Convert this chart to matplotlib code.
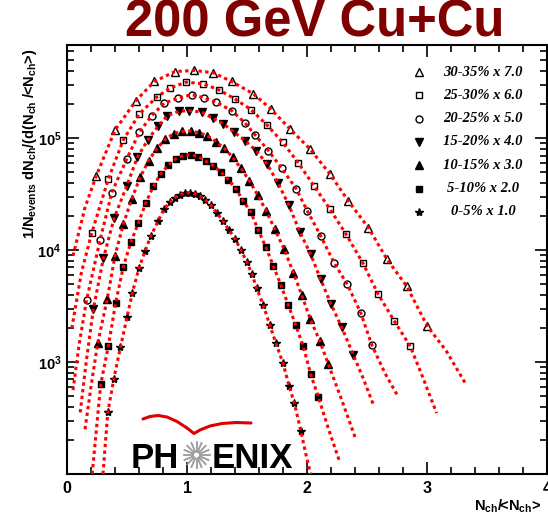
import matplotlib
matplotlib.use('Agg')
import matplotlib.pyplot as plt
import numpy as np
from matplotlib.ticker import MultipleLocator, LogLocator, NullFormatter

plt.rcParams['font.family'] = ['Liberation Sans', 'DejaVu Sans']
plt.rcParams['font.weight'] = 'bold'
plt.rcParams['mathtext.fontset'] = 'custom'
plt.rcParams['mathtext.rm'] = 'Liberation Sans:bold'
plt.rcParams['mathtext.bf'] = 'Liberation Sans:bold'
plt.rcParams['mathtext.it'] = 'Liberation Sans:bold'

# ---- data (Nch/<Nch>, scaled 1/Nev dN/dx) ----
legend_labels = ['30-35% x 7.0', '25-30% x 6.0', '20-25% x 5.0', '15-20% x 4.0',
                 '10-15% x 3.0', '5-10% x 2.0', '0-5% x 1.0']
x_ticks = [0, 1, 2, 3, 4]
y_ticks = [1e3, 1e4, 1e5]
y_tick_labels = [r'$10^{3}$', r'$10^{4}$', r'$10^{5}$']

x_30_35 = [0.242, 0.400, 0.575, 0.728, 0.900, 1.061, 1.219, 1.372, 1.553, 1.697,
           1.858, 2.025, 2.192, 2.344, 2.511, 2.667, 2.831, 3.003]
y_30_35 = [4.56e4, 1.18e5, 2.17e5, 3.21e5, 3.94e5, 4.03e5, 3.84e5, 3.21e5, 2.49e5, 1.83e5,
           1.21e5, 8.0e4, 4.78e4, 2.75e4, 1.59e4, 8280, 4760, 2090]

x_25_30 = [0.206, 0.344, 0.469, 0.603, 0.748, 0.858, 0.992, 1.136, 1.269, 1.400, 1.533,
           1.664, 1.798, 1.928, 2.058, 2.192, 2.325, 2.464, 2.594, 2.728, 2.861]
y_25_30 = [1.42e4, 4.31e4, 9.64e4, 1.65e5, 2.33e5, 2.8e5, 3.17e5, 3.06e5, 2.69e5, 2.24e5, 1.8e5,
           1.32e5, 9.18e4, 6.0e4, 3.75e4, 2.32e4, 1.39e4, 7730, 4020, 2320, 1380]

x_20_25 = [0.164, 0.275, 0.373, 0.498, 0.603, 0.706, 0.811, 0.928, 1.039, 1.142, 1.242, 1.373,
           1.480, 1.567, 1.678, 1.790, 1.908, 2.003, 2.114, 2.225, 2.336, 2.448, 2.539]
y_20_25 = [3620, 1.22e4, 3.27e4, 6.52e4, 1.13e5, 1.59e5, 2.06e5, 2.28e5, 2.45e5, 2.29e5, 2.1e5,
           1.76e5, 1.38e5, 1.07e5, 7.76e4, 5.37e4, 3.55e4, 2.24e4, 1.34e4, 7730, 4940, 2750, 1430]

x_15_20 = [0.219, 0.303, 0.394, 0.498, 0.586, 0.673, 0.761, 0.836, 0.933, 1.019, 1.123, 1.214,
           1.303, 1.394, 1.483, 1.575, 1.667, 1.758, 1.850, 1.942, 2.031, 2.114, 2.198, 2.289, 2.386]
y_15_20 = [2950, 8450, 1.95e4, 3.75e4, 6.75e4, 9.64e4, 1.29e5, 1.59e5, 1.74e5, 1.76e5, 1.71e5,
           1.51e5, 1.34e5, 1.13e5, 9.51e4, 7.76e4, 5.89e4, 3.98e4, 2.51e4, 1.44e4, 9160, 5470,
           3330, 2050, 1160]

x_10_15 = [0.256, 0.335, 0.400, 0.469, 0.540, 0.610, 0.680, 0.750, 0.820, 0.890, 0.960, 1.030,
           1.100, 1.170, 1.240, 1.310, 1.380, 1.450, 1.520, 1.590, 1.660, 1.730, 1.810, 1.886,
           1.956, 2.025, 2.108, 2.178]
y_10_15 = [1480, 3630, 8910, 1.7e4, 2.88e4, 4.47e4, 6.31e4, 8.13e4, 9.77e4, 1.1e5, 1.15e5, 1.16e5,
           1.12e5, 1.05e5, 9.33e4, 8.13e4, 6.76e4, 5.37e4, 4.17e4, 3.09e4, 2.24e4, 1.55e4, 1.02e4,
           6310, 3980, 2450, 1530, 955]

x_5_10 = [0.281, 0.344, 0.406, 0.469, 0.531, 0.594, 0.656, 0.719, 0.781, 0.844, 0.906, 0.969,
          1.031, 1.094, 1.156, 1.219, 1.281, 1.344, 1.406, 1.469, 1.531, 1.594, 1.656, 1.719,
          1.781, 1.844, 1.906, 1.969, 2.031, 2.094]
y_5_10 = [631, 1380, 3390, 7080, 1.17e4, 1.74e4, 2.63e4, 3.72e4, 4.79e4, 5.75e4, 6.53e4, 7.0e4,
          7.11e4, 6.84e4, 6.24e4, 5.69e4, 5.01e4, 4.27e4, 3.55e4, 2.75e4, 2.19e4, 1.51e4, 1.07e4,
          7240, 4900, 3240, 2140, 1380, 776, 490]

x_0_5 = [0.34, 0.39, 0.445, 0.50, 0.545, 0.60, 0.65, 0.70, 0.76, 0.81, 0.86, 0.90, 0.94, 0.985,
         1.025, 1.065, 1.11, 1.15, 1.20, 1.25, 1.30, 1.35, 1.40, 1.45, 1.50, 1.54, 1.58, 1.635,
         1.69, 1.74, 1.80, 1.85, 1.895, 1.95]
y_0_5 = [355, 708, 1350, 2510, 4170, 6920, 9770, 1.35e4, 1.82e4, 2.34e4, 2.69e4, 2.95e4, 3.13e4,
         3.24e4, 3.27e4, 3.2e4, 3.02e4, 2.82e4, 2.51e4, 2.14e4, 1.82e4, 1.51e4, 1.26e4, 1.0e4,
         7760, 6170, 4570, 3240, 2140, 1480, 977, 617, 427, 240]

# NBD fit tails beyond the data points: (x_low, y_low, x_high, y_high)
tail_30_35 = ([0.05, 0.15], [8900, 2.4e4], [3.16, 3.317], [1260, 653])
tail_25_30 = ([0.04, 0.12], [2000, 6300], [2.97, 3.08], [708, 350])
tail_20_25 = ([0.05, 0.10], [562, 1410], [2.65, 2.76], [794, 490])
tail_15_20 = ([0.11, 0.16], [355, 1000], [2.47, 2.553], [708, 417])
tail_10_15 = ([0.15, 0.20], [251, 603], [2.29, 2.40], [457, 214])
tail_5_10 = ([0.21, 0.245], [100, 251], [2.18, 2.275], [251, 126])
tail_0_5 = ([0.30, 0.32], [100, 190], [1.99, 2.03], [151, 100])

series = [(x_30_35, y_30_35, tail_30_35), (x_25_30, y_25_30, tail_25_30),
          (x_20_25, y_20_25, tail_20_25), (x_15_20, y_15_20, tail_15_20),
          (x_10_15, y_10_15, tail_10_15), (x_5_10, y_5_10, tail_5_10),
          (x_0_5, y_0_5, tail_0_5)]
markers = ['^', 's', 'o', 'v', '^', 's', '*']
filled = [False, False, False, True, True, True, True]
msizes = [5.5, 5, 5, 6, 5.5, 5, 6]

W, H = 548, 517
fig = plt.figure(figsize=(W / 100, H / 100), dpi=100)
ax = fig.add_axes([67 / W, (H - 474) / H, 480 / W, 429 / H])

for (xs, ys, tail), m, f, ms in zip(series, markers, filled, msizes):
    ax.plot(xs, ys, ls='none', marker=m, ms=ms, mec='black', mew=1.0,
            mfc='black' if f else 'white', zorder=3)
    fx = tail[0] + xs + tail[2]
    fy = tail[1] + ys + tail[3]
    ax.plot(fx, fy, color='#ff0000', lw=2.2, ls=(0, (1.1, 1.1)),
            dash_capstyle='butt', zorder=4)

ax.set_yscale('log')
ax.set_xlim(0, 4)
ax.set_ylim(100, 6.8e5)

ax.set_xticks(x_ticks)
ax.set_xticklabels([str(t) for t in x_ticks])
ax.xaxis.set_minor_locator(MultipleLocator(0.2))
ax.yaxis.set_minor_locator(LogLocator(base=10, subs=np.arange(2, 10)))
ax.yaxis.set_minor_formatter(NullFormatter())
ax.set_yticks(y_ticks)
ax.set_yticklabels(y_tick_labels)

ax.tick_params(which='both', direction='in', top=True, right=True, width=1.2)
ax.tick_params(which='major', length=8.5)
ax.tick_params(which='minor', length=5)
ax.tick_params(axis='x', which='major', labelsize=11.5, pad=5)
ax.tick_params(axis='y', which='major', labelsize=10.5, pad=4)
for s in ax.spines.values():
    s.set_linewidth(1.5)

ax.set_ylabel(r'1/N$_{\rm events}$ dN$_{\rm ch}$/(d(N$_{\rm ch}$ /<N$_{\rm ch}$>)',
              fontsize=10.5, fontweight='bold')
ax.yaxis.set_label_coords(-0.058, 0.77)
fig.text(541 / W, 1 - 506 / H, r'N$_{\rm ch}$/<N$_{\rm ch}$>', ha='right', va='center',
         fontsize=10.5, fontweight='bold')

fig.text(315 / W, 1 - 23 / H, '200 GeV Cu+Cu', ha='center', va='center',
         fontsize=36.5, fontweight='bold', color='#800000')

# overlay in pixel coordinates for legend and logo
ov = fig.add_axes([0, 0, 1, 1], zorder=5)
ov.set_xlim(0, W)
ov.set_ylim(H, 0)
ov.axis('off')
ov.patch.set_alpha(0)

for i, (lab, m, f, ms) in enumerate(zip(legend_labels, markers, filled, msizes)):
    yy = 72 + 23.3 * i
    ov.plot([419], [yy], ls='none', marker=m, ms=ms, mec='black', mew=1.0,
            mfc='black' if f else 'white')
    ov.text(483, yy, lab, ha='center', va='center', fontsize=10.5,
            family=['Liberation Serif', 'DejaVu Serif'], style='italic', weight='bold')

# PHENIX logo
ov.text(131, 468, 'PH', ha='left', va='baseline', fontsize=25, fontweight='bold', color='black')
ov.text(212, 468, 'ENIX', ha='left', va='baseline', fontsize=25, fontweight='bold', color='black')
cx, cy = 196.5, 455
for a in np.linspace(0, 2 * np.pi, 16, endpoint=False):
    ov.plot([cx + 3.5 * np.cos(a), cx + 13 * np.cos(a)],
            [cy + 3.5 * np.sin(a), cy + 13 * np.sin(a)], color='#9a9a9a', lw=1.3)
swoosh_x = [143, 150, 158, 167, 177, 187, 194, 200, 210, 222, 236, 251]
swoosh_y = [419, 416.5, 415.5, 417, 421.5, 428, 433.5, 430, 426, 423.5, 422.5, 423]
ov.plot(swoosh_x, swoosh_y, color='#e00000', lw=2.2, solid_capstyle='round')

fig.savefig('out.png', dpi=100)
